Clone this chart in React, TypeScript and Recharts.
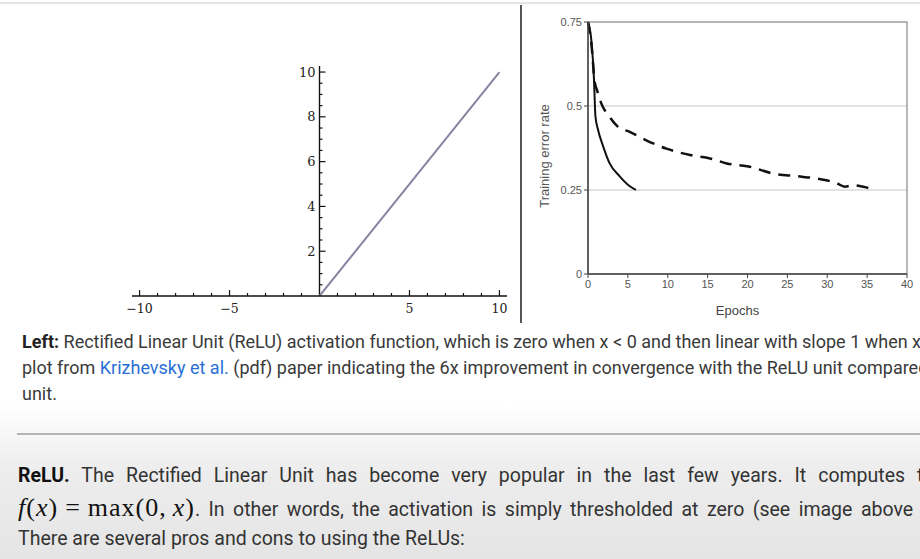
import React from "react";
import {
  LineChart, Line, XAxis, YAxis, CartesianGrid, ReferenceLine, ReferenceArea,
} from "recharts";

// left plot: ReLU function
const RELU_X = [0, 10];
const RELU_Y = [0, 10];
const LEFT_X_TICKS = [-10, -9, -8, -7, -6, -5, -4, -3, -2, -1, 1, 2, 3, 4, 5, 6, 7, 8, 9, 10];
const LEFT_Y_TICKS = [0.5, 1, 1.5, 2, 2.5, 3, 3.5, 4, 4.5, 5, 5.5, 6, 6.5, 7, 7.5, 8, 8.5, 9, 9.5, 10];

// right plot: training error vs epochs (Krizhevsky et al.)
const RELU_EPOCHS = [0, 0.4, 0.75, 0.93, 1.25, 1.9, 2.7, 4, 5.2, 6];
const RELU_ERROR = [0.75, 0.7, 0.58, 0.47, 0.43, 0.38, 0.33, 0.29, 0.262, 0.25];
const TANH_EPOCHS = [0, 0.42, 0.84, 1.13, 1.68, 2.72, 3.77, 5.24, 7.3, 9.84, 12.8, 15.3, 17.4, 20.3, 23.2, 26.2, 28.7, 31.2, 32.2, 33.3, 35, 36];
const TANH_ERROR = [0.75, 0.686, 0.572, 0.547, 0.507, 0.467, 0.438, 0.423, 0.398, 0.373, 0.354, 0.344, 0.329, 0.319, 0.299, 0.291, 0.284, 0.27, 0.26, 0.264, 0.257, 0.25];
const EPOCH_TICKS = [0, 5, 10, 15, 20, 25, 30, 35, 40];
const ERROR_TICKS = [0, 0.25, 0.5, 0.75];

const reluFn = RELU_X.map((x, i) => ({ x, y: RELU_Y[i] }));
const reluCurve = RELU_EPOCHS.map((e, i) => ({ epoch: e, err: RELU_ERROR[i] }));
const tanhCurve = TANH_EPOCHS.map((e, i) => ({ epoch: e, err: TANH_ERROR[i] }));

// left chart geometry
const L_W = 420, L_H = 290;
const L_MARGIN = { top: 26, right: 13, left: 31, bottom: 4 };
const L_YAXIS_W = 1;
const L_XAXIS_H = 30;
const L_PLOT_LEFT = L_MARGIN.left + L_YAXIS_W;
const L_PLOT_W = L_W - L_PLOT_LEFT - L_MARGIN.right;
const ZERO_X = L_PLOT_LEFT + L_PLOT_W / 2;
const AXIS_Y = L_H - L_MARGIN.bottom - L_XAXIS_H;
const SERIF = "'DejaVu Serif', 'Liberation Serif', serif";

const fmtMinus = (v: number) => (v < 0 ? "\u2212" + Math.abs(v) : String(v));

const LeftXTick = ({ x, payload }: any) => {
  const v = payload.value;
  const major = v % 5 === 0;
  return (
    <g>
      <line x1={x} x2={x} y1={AXIS_Y} y2={AXIS_Y - (major ? 6 : 3)} stroke="#111" strokeWidth={1.2} />
      {major && (
        <text x={x} y={AXIS_Y + 17} textAnchor="middle" fontFamily={SERIF} fontSize={12.5} fill="#222">
          {fmtMinus(v)}
        </text>
      )}
    </g>
  );
};

const LeftYTick = ({ y, payload }: any) => {
  const v = payload.value;
  const major = v % 2 === 0;
  return (
    <g>
      <line x1={ZERO_X} x2={ZERO_X + (major ? 6 : 3)} y1={y} y2={y} stroke="#111" strokeWidth={1.2} />
      {major && (
        <text x={ZERO_X - 4} y={y + 4.5} textAnchor="end" fontFamily={SERIF} fontSize={13} fill="#222">
          {v}
        </text>
      )}
    </g>
  );
};

function ReluPlot() {
  return (
    <LineChart width={L_W} height={L_H} data={reluFn} margin={L_MARGIN}>
      <XAxis
        type="number"
        dataKey="x"
        domain={[-10.42, 10.42]}
        ticks={LEFT_X_TICKS}
        interval={0}
        height={L_XAXIS_H}
        axisLine={{ stroke: "#111", strokeWidth: 1.4 }}
        tickLine={false}
        tick={<LeftXTick />}
        allowDataOverflow
      />
      <YAxis
        type="number"
        domain={[0, 10.27]}
        ticks={LEFT_Y_TICKS}
        interval={0}
        width={L_YAXIS_W}
        axisLine={false}
        tickLine={false}
        tick={<LeftYTick />}
        allowDataOverflow
      />
      <ReferenceLine x={0} stroke="#111" strokeWidth={1.4} />
      <Line
        type="linear"
        dataKey="y"
        stroke="#8585a2"
        strokeWidth={2}
        dot={false}
        isAnimationActive={false}
      />
    </LineChart>
  );
}

const SANS = "'Liberation Sans', Arial, sans-serif";

function ErrorPlot() {
  return (
    <LineChart width={395} height={330} margin={{ top: 22, right: 13, left: 0, bottom: 11 }}>
      <CartesianGrid vertical={false} stroke="#c6c6c6" strokeWidth={1.2} />
      <ReferenceArea x1={0} x2={40} y1={0} y2={0.75} fill="none" stroke="#8a8a8a" strokeWidth={1.2} />
      <XAxis
        type="number"
        dataKey="epoch"
        domain={[0, 40]}
        ticks={EPOCH_TICKS}
        interval={0}
        height={45}
        axisLine={{ stroke: "#444", strokeWidth: 1.5 }}
        tickLine={{ stroke: "#444" }}
        tickSize={4}
        tickMargin={2}
        tick={{ fill: "#555", fontSize: 11, fontFamily: SANS }}
        label={{ value: "Epochs", position: "insideBottom", offset: 4, dx: -10, fill: "#444", fontSize: 13, fontFamily: SANS }}
      />
      <YAxis
        type="number"
        domain={[0, 0.75]}
        ticks={ERROR_TICKS}
        interval={0}
        width={63}
        axisLine={{ stroke: "#444", strokeWidth: 1.5 }}
        tickLine={{ stroke: "#444" }}
        tickSize={4}
        tickMargin={2}
        tick={{ fill: "#555", fontSize: 11, fontFamily: SANS }}
        label={{
          value: "Training error rate", angle: -90, position: "insideLeft", offset: 19,
          dy: 8, fill: "#555", fontSize: 13, fontFamily: SANS, style: { textAnchor: "middle" },
        }}
      />
      <Line
        data={reluCurve}
        type="monotone"
        dataKey="err"
        stroke="#111"
        strokeWidth={2}
        dot={false}
        isAnimationActive={false}
      />
      <Line
        data={tanhCurve}
        type="monotone"
        dataKey="err"
        stroke="#111"
        strokeWidth={2.5}
        strokeDasharray="12 8"
        dot={false}
        isAnimationActive={false}
      />
    </LineChart>
  );
}

const line: React.CSSProperties = { whiteSpace: "nowrap" };
const justified: React.CSSProperties = { width: 1010, textAlign: "justify", textAlignLast: "justify" };
const math: React.CSSProperties = {
  display: "inline-block", fontFamily: "'Liberation Serif', serif", fontSize: 26, color: "#111",
  whiteSpace: "nowrap", letterSpacing: 1,
};

export default function App() {
  return (
    <div
      style={{
        position: "absolute", left: 0, top: 0, width: 920, height: 559, overflow: "hidden",
        background: "linear-gradient(to bottom, #ffffff 0px, #ffffff 405px, #ededed 470px, #e5e5e5 559px)",
        fontFamily: "Roboto, sans-serif", color: "#3a3a3a",
      }}
    >
      <div style={{ position: "absolute", left: 0, top: 2, width: 920, height: 2, background: "#e4e4e4" }} />
      <div style={{ position: "absolute", left: 100, top: 40 }}>
        <ReluPlot />
      </div>
      <div style={{ position: "absolute", left: 520, top: 5, width: 2, height: 318, background: "#555" }} />
      <div style={{ position: "absolute", left: 525, top: 0 }}>
        <ErrorPlot />
      </div>

      <div style={{ position: "absolute", left: 22, top: 329, fontSize: 18, lineHeight: "26px" }}>
        <div style={line}>
          <b style={{ color: "#222" }}>Left:</b> Rectified Linear Unit (ReLU) activation function, which is zero when x &lt; 0 and then linear with slope 1 when x &gt; 0.
        </div>
        <div style={line}>
          plot from <span style={{ color: "#2a6fd6" }}>Krizhevsky et al.</span> (pdf) paper indicating the 6x improvement in convergence with the ReLU unit compared to
        </div>
        <div style={line}>unit.</div>
      </div>

      <div style={{ position: "absolute", left: 17, top: 433, width: 903, height: 2, background: "#b3b3b3" }} />

      <div style={{ position: "absolute", left: 18, top: 461, fontSize: 19.5, color: "#333" }}>
        <div style={{ ...justified, lineHeight: "30px" }}>
          <b style={{ color: "#111" }}>ReLU.</b> The Rectified Linear Unit has become very popular in the last few years. It computes the function
        </div>
        <div style={{ ...justified, lineHeight: "30px", marginTop: 2 }}>
          <span style={math}>
            <i>f</i>(<i>x</i>)<span style={{ margin: "0 7px" }}>=</span>max(0,<span style={{ marginLeft: 6 }}><i>x</i></span>)
          </span>
          . In other words, the activation is simply thresholded at zero (see image above on the left).
        </div>
        <div style={{ ...line, lineHeight: "28px" }}>There are several pros and cons to using the ReLUs:</div>
      </div>
    </div>
  );
}
